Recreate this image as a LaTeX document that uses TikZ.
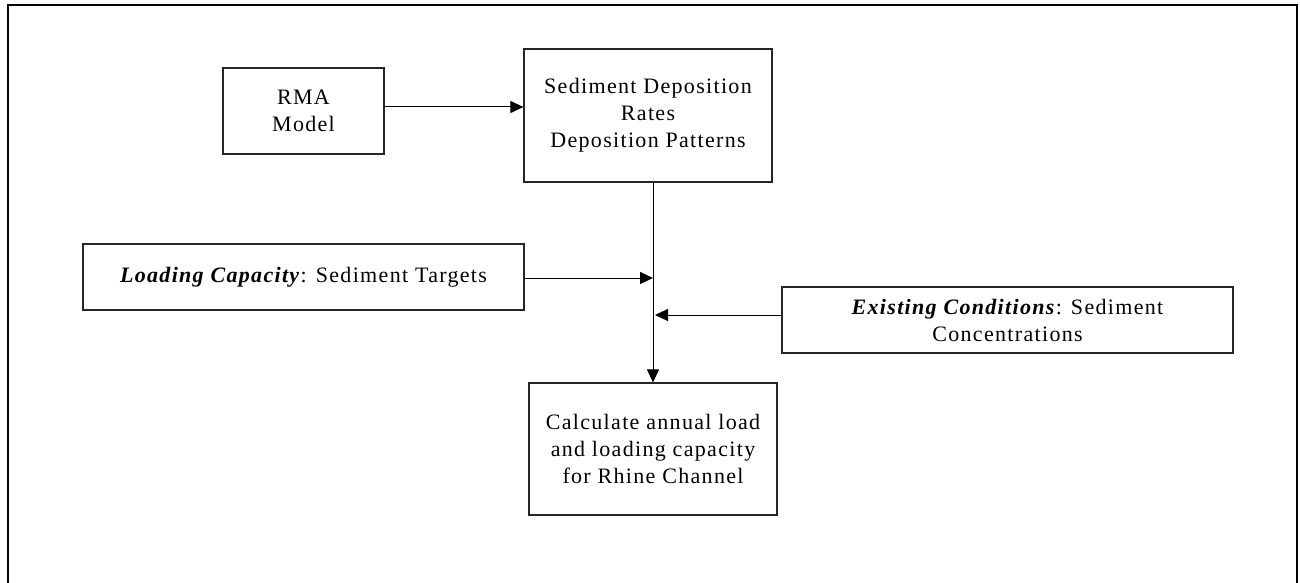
\documentclass[tikz,border=0pt]{standalone}
\usepackage{fontspec}
\setmainfont{Liberation Serif}[LetterSpace=6.0]
\usetikzlibrary{arrows.meta}
\begin{document}
\begin{tikzpicture}[x=1pt,y=-1pt,
  box/.style={draw=black!85,line width=1.2pt,align=center,inner sep=0pt,
    font=\fontsize{22}{27}\selectfont},
  arr/.style={line width=1pt,-{Triangle[length=13pt,width=12pt]}}]
\useasboundingbox (0,0) rectangle (1300,583);
\fill[white] (0,0) rectangle (1300,583);
\draw[line width=2.8pt] (8,590) -- (8,5) -- (1297,5) -- (1297,590);
\node[box,minimum width=161pt,minimum height=86pt] (rma) at (303.5,111) {RMA\\Model};
\node[box,minimum width=248pt,minimum height=133pt] (sed) at (648,115.5) {Sediment Deposition\\Rates\\Deposition Patterns};
\node[box,minimum width=441pt,minimum height=66pt] (load) at (303.5,277) {\textbf{\textit{Loading Capacity}}: Sediment Targets};
\node[box,minimum width=451pt,minimum height=66pt] (exist) at (1007.5,320) {\textbf{\textit{Existing Conditions}}: Sediment\\Concentrations};
\node[box,minimum width=248pt,minimum height=132pt] (calc) at (653,449) {Calculate annual load\\and loading capacity\\for Rhine Channel};
\draw[arr] ([yshift=4pt]rma.east) -- ([yshift=4pt]rma.east -| sed.west);
\draw[arr] (calc.north |- sed.south) -- (calc.north);
\draw[arr] ([yshift=-1pt]load.east) -- ([yshift=-1pt]load.east -| calc.north);
\draw[arr] ([yshift=5pt]exist.west) -- ([yshift=5pt,xshift=2pt]exist.west -| calc.north);
\end{tikzpicture}
\end{document}
